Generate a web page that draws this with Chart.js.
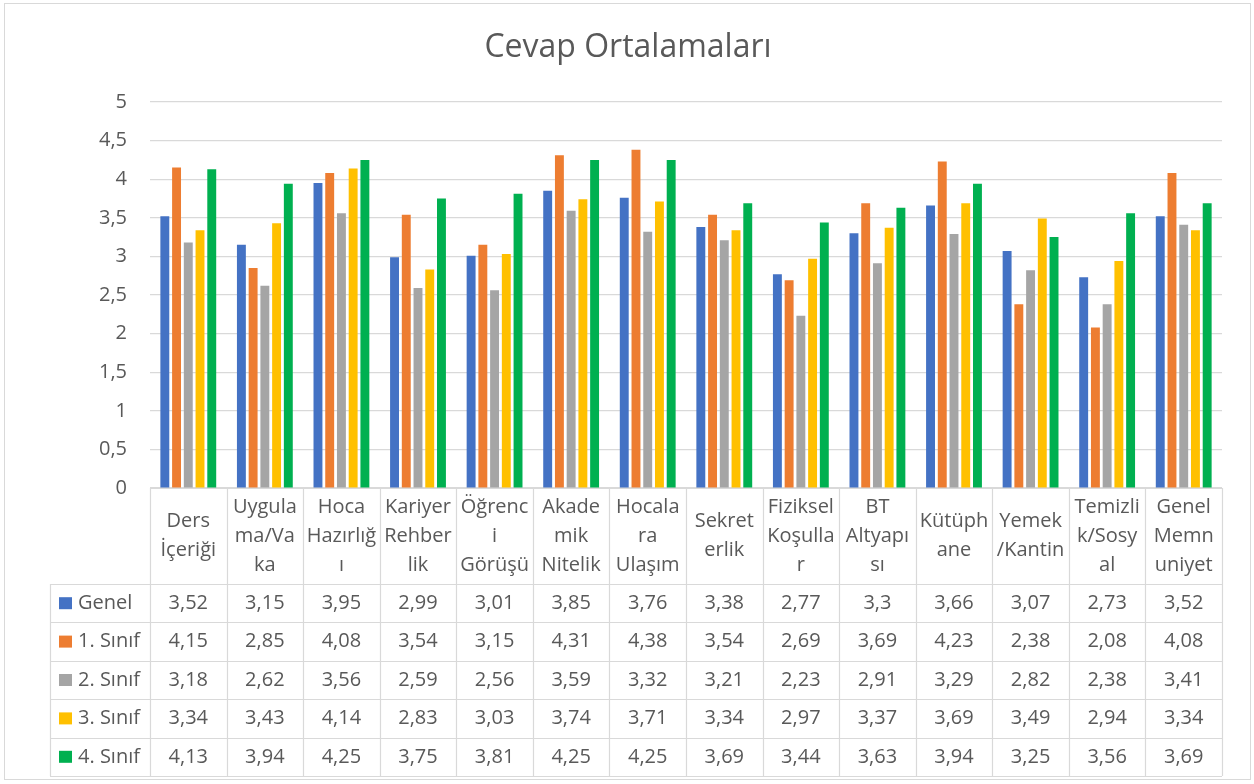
<!DOCTYPE html>
<html>
<head>
<meta charset="utf-8">
<script src="https://cdn.jsdelivr.net/npm/chart.js@4.4.1/dist/chart.umd.min.js"></script>
<style>
  html, body { margin: 0; padding: 0; background: #ffffff; }
  #wrap { position: relative; width: 1254px; height: 784px; }
</style>
</head>
<body>
<div id="wrap"><canvas id="c" width="1254" height="784"></canvas></div>
<script>
// ---- Data ----
const titleText = "Cevap Ortalamaları";
const categories = [
  ["Ders", "İçeriği"],
  ["Uygula", "ma/Va", "ka"],
  ["Hoca", "Hazırlığ", "ı"],
  ["Kariyer", "Rehber", "lik"],
  ["Öğrenc", "i", "Görüşü"],
  ["Akade", "mik", "Nitelik"],
  ["Hocala", "ra", "Ulaşım"],
  ["Sekret", "erlik"],
  ["Fiziksel", "Koşulla", "r"],
  ["BT", "Altyapı", "sı"],
  ["Kütüph", "ane"],
  ["Yemek", "/Kantin"],
  ["Temizli", "k/Sosy", "al"],
  ["Genel", "Memn", "uniyet"]
];
const seriesNames = ["Genel", "1. Sınıf", "2. Sınıf", "3. Sınıf", "4. Sınıf"];
const genel  = [3.52, 3.15, 3.95, 2.99, 3.01, 3.85, 3.76, 3.38, 2.77, 3.3, 3.66, 3.07, 2.73, 3.52];
const sinif1 = [4.15, 2.85, 4.08, 3.54, 3.15, 4.31, 4.38, 3.54, 2.69, 3.69, 4.23, 2.38, 2.08, 4.08];
const sinif2 = [3.18, 2.62, 3.56, 2.59, 2.56, 3.59, 3.32, 3.21, 2.23, 2.91, 3.29, 2.82, 2.38, 3.41];
const sinif3 = [3.34, 3.43, 4.14, 2.83, 3.03, 3.74, 3.71, 3.34, 2.97, 3.37, 3.69, 3.49, 2.94, 3.34];
const sinif4 = [4.13, 3.94, 4.25, 3.75, 3.81, 4.25, 4.25, 3.69, 3.44, 3.63, 3.94, 3.25, 3.56, 3.69];
const yTickLabels = ["0", "0,5", "1", "1,5", "2", "2,5", "3", "3,5", "4", "4,5", "5"];

const seriesValues = [genel, sinif1, sinif2, sinif3, sinif4];
const colors = ["#4472C4", "#ED7D31", "#A5A5A5", "#FFC000", "#00B050"];

const FONT = '"Open Sans", "DejaVu Sans", sans-serif';
const TEXT = "#595959";
const LINE = "#D9D9D9";

function fmt(v) { return String(v).replace(".", ","); }

const tablePlugin = {
  id: "tablePlugin",
  afterDraw(chart) {
    const ctx = chart.ctx;
    const x = chart.scales.x;
    const area = chart.chartArea;
    const n = categories.length;
    const w = (area.right - area.left) / n;
    const top = area.bottom;
    const headerH = 96;
    const rowH = 38.4;
    const legendLeft = 50;
    const rowsTop = top + headerH;
    const nRows = seriesNames.length;
    const bottom = rowsTop + rowH * nRows;

    ctx.save();
    // outer chart border
    ctx.strokeStyle = LINE;
    ctx.lineWidth = 1;
    ctx.strokeRect(4.5, 3.5, 1246, 776);

    // title
    ctx.fillStyle = TEXT;
    ctx.font = "32px " + FONT;
    ctx.textAlign = "center";
    ctx.textBaseline = "middle";
    ctx.fillText(titleText, 628, 48);

    // table lines
    ctx.strokeStyle = LINE;
    ctx.lineWidth = 1.2;
    ctx.beginPath();
    ctx.moveTo(area.left, top + 0.5); ctx.lineTo(area.right, top + 0.5);
    for (let r = 0; r <= nRows; r++) {
      const yy = Math.round(rowsTop + r * rowH) + 0.5;
      ctx.moveTo(legendLeft, yy); ctx.lineTo(area.right, yy);
    }
    for (let i = 0; i <= n; i++) {
      const xx = Math.round(area.left + i * w) + 0.5;
      ctx.moveTo(xx, top); ctx.lineTo(xx, bottom);
    }
    ctx.moveTo(legendLeft + 0.5, rowsTop); ctx.lineTo(legendLeft + 0.5, bottom);
    ctx.stroke();

    // header labels
    ctx.fillStyle = TEXT;
    ctx.font = "20px " + FONT;
    ctx.textAlign = "center";
    ctx.textBaseline = "middle";
    const lh = 29;
    for (let i = 0; i < n; i++) {
      const cx = x.getPixelForValue(i);
      const lines = categories[i];
      const cy = top + headerH / 2;
      const startY = cy - (lines.length - 1) * lh / 2;
      lines.forEach((ln, k) => ctx.fillText(ln, cx, startY + k * lh));
    }

    // data rows
    for (let r = 0; r < nRows; r++) {
      const cy = rowsTop + r * rowH + rowH / 2;
      ctx.fillStyle = colors[r];
      ctx.fillRect(59, cy - 6, 13, 12);
      ctx.fillStyle = TEXT;
      ctx.textAlign = "left";
      ctx.fillText(seriesNames[r], 78, cy);
      ctx.textAlign = "center";
      for (let i = 0; i < n; i++) {
        ctx.fillText(fmt(seriesValues[r][i]), x.getPixelForValue(i), cy);
      }
    }
    ctx.restore();
  }
};

const labelsFlat = categories.map(l => l.join(""));

new Chart(document.getElementById("c"), {
  type: "bar",
  data: {
    labels: labelsFlat,
    datasets: seriesNames.map((name, i) => ({
      label: name,
      data: seriesValues[i],
      backgroundColor: colors[i],
      borderWidth: 0,
      categoryPercentage: 0.766,
      barPercentage: 0.76
    }))
  },
  options: {
    responsive: false,
    animation: false,
    devicePixelRatio: 1,
    layout: { padding: { left: 0, right: 32, top: 102, bottom: 296 } },
    plugins: {
      legend: { display: false },
      title: { display: false },
      tooltip: { enabled: false }
    },
    scales: {
      x: { display: false },
      y: {
        min: 0, max: 5,
        afterFit(scale) { scale.width = 150; },
        ticks: {
          stepSize: 0.5,
          padding: 23,
          color: TEXT,
          font: { family: FONT, size: 20 },
          callback: (v) => yTickLabels[Math.round(v * 2)]
        },
        grid: { color: LINE, lineWidth: 1.2, drawTicks: false },
        border: { display: false }
      }
    }
  },
  plugins: [tablePlugin]
});
</script>
</body>
</html>
